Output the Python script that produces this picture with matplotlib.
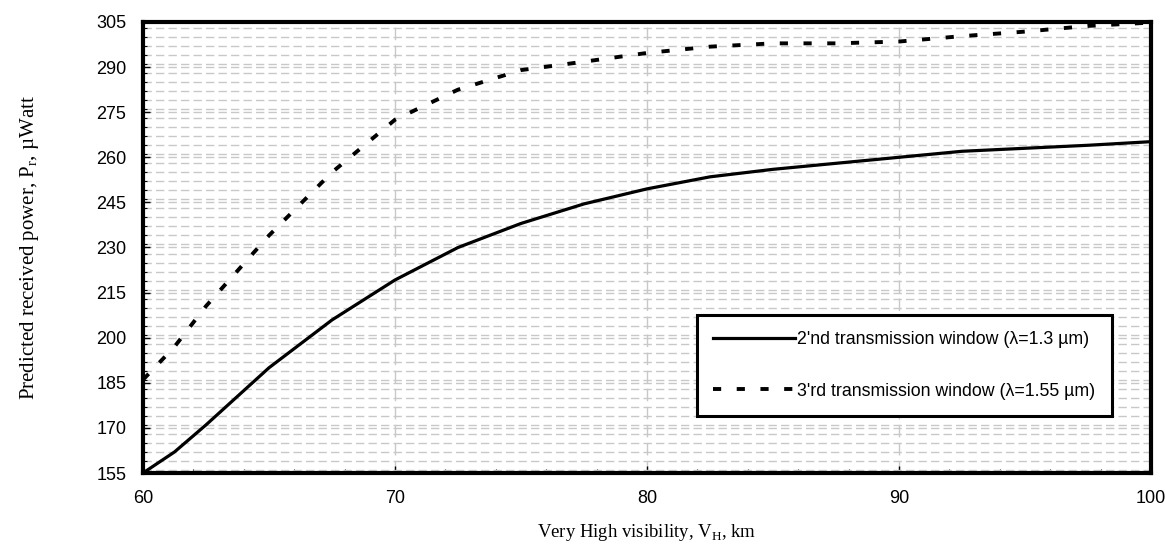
import matplotlib
matplotlib.use('Agg')
import matplotlib.pyplot as plt
from matplotlib.ticker import MultipleLocator

# visibility (km) and predicted received power (uW)
vis_2nd = [60, 61.25, 62.5, 65, 67.5, 70, 72.5, 75, 77.5, 80, 82.5, 85, 87.5, 90, 92.5, 95, 97.5, 100]
pr_2nd = [155, 162, 171, 190, 205.9, 219.2, 230, 238, 244.5, 249.5, 253.5, 256, 258, 260, 262, 263, 264, 265.2]

vis_3rd = [60, 61.25, 62.5, 65, 67.5, 70, 72.5, 75, 77.5, 80, 82.5, 85, 87.5, 90, 92.5, 95, 97.5, 100]
pr_3rd = [186, 197, 210.5, 234, 255, 272.5, 282.5, 289, 291.8, 294.7, 296.8, 297.9, 297.9, 298.5, 300.3, 301.8, 303.7, 304.8]

label_2nd = "2'nd transmission window (\u03bb=1.3 \u00b5m)"
label_3rd = "3'rd transmission window (\u03bb=1.55 \u00b5m)"

x_ticks = [60, 70, 80, 90, 100]
y_ticks = [155, 170, 185, 200, 215, 230, 245, 260, 275, 290, 305]

plt.rcParams['font.family'] = ['Liberation Sans', 'DejaVu Sans']

fig = plt.figure(figsize=(11.65, 5.5), dpi=100)
ax = fig.add_axes([143 / 1165, 1 - 473 / 550, 1008 / 1165, 451 / 550])

ax.plot(vis_2nd, pr_2nd, color='black', lw=2.3, label=label_2nd, zorder=3)
ax.plot(vis_3rd, pr_3rd, color='black', lw=2.8, dashes=(2.1, 4.0), dash_capstyle='butt',
        label=label_3rd, zorder=3)

ax.set_xlim(60, 100)
ax.set_ylim(155, 305)
ax.set_xticks(x_ticks)
ax.set_yticks(y_ticks)
ax.xaxis.set_minor_locator(MultipleLocator(2))
ax.yaxis.set_minor_locator(MultipleLocator(3))

# gridlines: light dashed horizontal every 3, vertical at major x
ax.grid(True, axis='y', which='both', color='#c8c8c8', lw=1, dashes=(6, 3))
ax.grid(True, axis='x', which='major', color='#c8c8c8', lw=1, dashes=(9, 4))
ax.set_axisbelow(True)

for s in ax.spines.values():
    s.set_linewidth(3)
    s.set_color('black')

ax.tick_params(axis='both', which='both', direction='in', colors='black', labelsize=13)
ax.tick_params(axis='both', which='major', length=5, width=1)
ax.tick_params(axis='both', which='minor', length=3, width=0.8)
ax.tick_params(axis='x', pad=12)
ax.tick_params(axis='y', pad=12)
ax.tick_params(top=False, right=False, which='both')

ax.set_xlabel('Very High visibility, V$_\\mathregular{H}$, km', family='Liberation Serif',
              fontsize=13.5, labelpad=11)
ax.set_ylabel('Predicted received power, P$_\\mathregular{r}$, \u00b5Watt', family='Liberation Serif',
              fontsize=15, labelpad=40)

leg = ax.legend(loc='upper left', bbox_to_anchor=(0.5496, 0.3503), fontsize=12.8,
                handlelength=4.6, handletextpad=0.15, labelspacing=1.95, borderpad=0.9,
                borderaxespad=0, fancybox=False, framealpha=1, edgecolor='black')
leg.get_frame().set_linewidth(2.2)

fig.savefig('out.png', dpi=100)
